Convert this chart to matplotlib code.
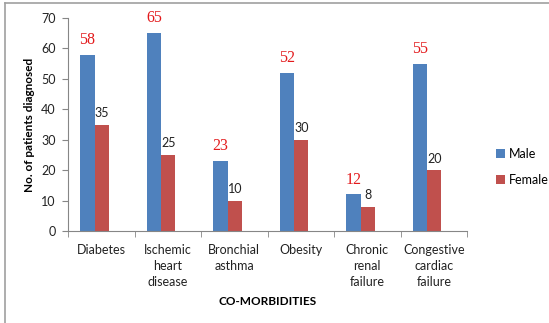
import matplotlib.pyplot as plt
import numpy as np
from matplotlib.lines import Line2D

# Data
categories = ["Diabetes", "Ischemic\nheart\ndisease", "Bronchial\nasthma",
              "Obesity", "Chronic\nrenal\nfailure", "Congestive\ncardiac\nfailure"]
male = [58, 65, 23, 52, 12, 55]
female = [35, 25, 10, 30, 8, 20]

plt.rcParams['font.family'] = ['Lato', 'DejaVu Sans']

fig = plt.figure(figsize=(5.49, 3.23), dpi=100)
ax = fig.add_axes([0.1239, 0.2848, 0.7268, 0.6594])

x = np.arange(len(categories))
w = 0.216
shift = -0.1
male_bars = ax.bar(x + shift - w / 2, male, w, color="#4F81BD", label="Male")
female_bars = ax.bar(x + shift + w / 2, female, w, color="#C0504D", label="Female")

# value labels
for b, v in zip(male_bars, male):
    ax.annotate(str(v), (b.get_x() + b.get_width() / 2, v), xytext=(0, 5),
                textcoords="offset points", ha="center", va="bottom",
                color="#E31A1C", fontsize=11.5, family="Liberation Serif")
for b, v in zip(female_bars, female):
    ax.annotate(str(v), (b.get_x() + b.get_width() / 2, v), xytext=(0, 4),
                textcoords="offset points", ha="center", va="bottom",
                color="#222222", fontsize=9)

ax.set_xlim(-0.5, len(categories) - 0.5)
ax.set_ylim(0, 70)
ax.set_yticks(range(0, 71, 10))
ax.set_xticks(x)
ax.set_xticklabels(categories, linespacing=1.4, color="#222222")
ax.set_xticks(np.arange(-0.5, len(categories)), minor=True)
ax.tick_params(axis="x", which="major", length=0, pad=9, labelsize=9)
ax.tick_params(axis="x", which="minor", length=4, color="#868686")
ax.tick_params(axis="y", length=4, color="#868686", labelsize=9, labelcolor="#222222", pad=5)

for s in ["top", "right"]:
    ax.spines[s].set_visible(False)
for s in ["left", "bottom"]:
    ax.spines[s].set_color("#868686")

ax.set_ylabel("No. of patients diagnosed", fontsize=8.5, fontweight="bold", labelpad=4)
ax.set_xlabel("CO-MORBIDITIES", fontsize=8.5, fontweight="bold", labelpad=6)

fig.legend(handles=[male_bars, female_bars], loc="center left",
           bbox_to_anchor=(0.883, 0.483), frameon=False, fontsize=9,
           handlelength=0.7, handleheight=0.7, handletextpad=0.35, labelspacing=1.1)

# partial image border (top and left)
fig.add_artist(Line2D([5 / 549, 1], [1 - 3 / 323, 1 - 3 / 323], color="#A0A0A0", lw=1.2))
fig.add_artist(Line2D([5 / 549, 5 / 549], [0, 1 - 3 / 323], color="#A0A0A0", lw=1.2))

plt.savefig("out.png", dpi=100)
